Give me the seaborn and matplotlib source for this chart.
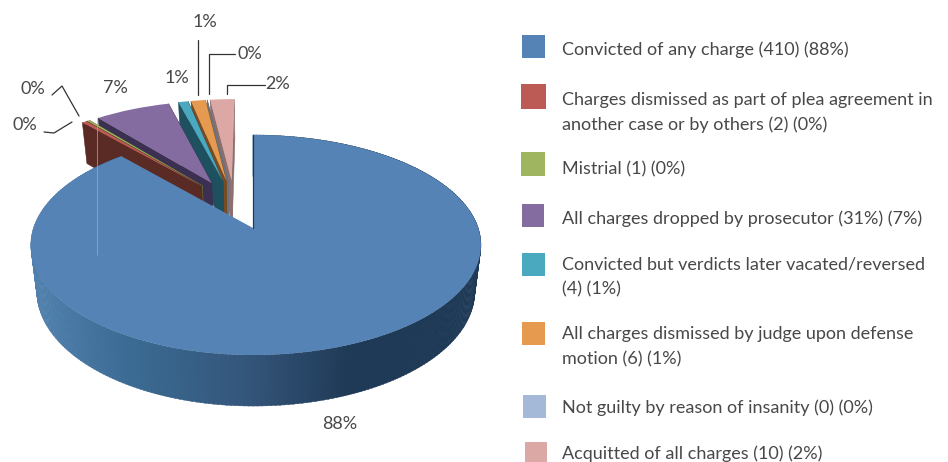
#!/usr/bin/env python3
"""Outcome of federal charges, drawn as a tilted exploded pie with a side legend."""

import numpy as np
import matplotlib
matplotlib.use("Agg")
import matplotlib.pyplot as plt
from matplotlib.colors import to_rgb
from matplotlib.patches import Rectangle
from matplotlib.transforms import Transform
import seaborn as sns

# --------------------------------------------------------------------
# DATA
# --------------------------------------------------------------------

COUNTS = [410, 2, 1, 31, 4, 6, 0, 10]

LEGEND_LABELS = [
    "Convicted of any charge (410) (88%)",
    "Charges dismissed as part of plea agreement in\nanother case or by others (2) (0%)",
    "Mistrial (1) (0%)",
    "All charges dropped by prosecutor (31%) (7%)",
    "Convicted but verdicts later vacated/reversed\n(4) (1%)",
    "All charges dismissed by judge upon defense\nmotion (6) (1%)",
    "Not guilty by reason of insanity (0) (0%)",
    "Acquitted of all charges (10) (2%)",
]

# --------------------------------------------------------------------
# STYLE AND LAYOUT (pixels of the output image)
# --------------------------------------------------------------------

TOP_COLORS = ["#5583b5", "#bc5b55", "#a0b55f", "#856ca0",
              "#4aa8bf", "#e59a4f", "#a4b8d8", "#dba8a5"]
WALL_COLORS = ["#1f3a56", "#5a2a25", "#5f6e35", "#3c3052",
               "#1f505f", "#7a4a20", "#6b7280", "#8c6f6d"]
TEXT_COLOR = "#484848"
LINE_COLOR = "#333333"

APEX_X, APEX_Y = 253, 228
EXPLODE = 0.245
TILT = 0.1545
X_SCALE_LEFT, X_SCALE_RIGHT = 219.5, 225.2
Y_SCALE = 107.4

# side colour of the big slice, going left to right
RIM_X = [36, 130, 250, 350, 480]
RIM_COLORS = ["#5080ad", "#3b6b93", "#34557a", "#1f3a56", "#1f3a56"]

SWATCHES = [(522, 35, 23, 23), (521, 84, 25, 25), (521, 152, 24, 24), (522, 204, 22, 23),
            (522, 253, 23, 23), (522, 322, 23, 23), (523, 395, 23, 23), (525, 442, 22, 22)]
LEGEND_TEXT_X = 562
LEGEND_TEXT_Y = [49.5, 112.5, 169.5, 218.5, 277, 347, 407.5, 453.5]

# percent label positions, same order as COUNTS
PCT_POS = [(340, 424), (25, 125), (33, 89), (115, 88), (177, 78), (205, 22), (250, 54), (278, 84)]
LEADERS = [
    [(44, 132), (54, 133), (72, 122)],
    [(52, 95), (62, 86), (79, 116)],
    [(198, 40), (198, 95)],
    [(235, 54), (209, 54), (209, 94)],
    [(265, 85), (227, 85), (227, 94)],
]


# --------------------------------------------------------------------
# PROJECTION
# --------------------------------------------------------------------

def project(u, v):
    """Pie coordinates to image pixels, with the far side foreshortened."""
    u, v = np.asarray(u, float), np.asarray(v, float)
    scale = np.where(u < 0, X_SCALE_LEFT, X_SCALE_RIGHT)
    w = 1 + TILT * v
    return APEX_X + scale * u / w, APEX_Y - Y_SCALE * v / w


def drop(x, y):
    """Top face pixel to the matching pixel on the bottom face."""
    return APEX_X + (x - APEX_X) * 0.973, y + 41 + (y - 122) * 0.043


class TiltedPie(Transform):
    input_dims = 2
    output_dims = 2
    is_separable = False
    has_inverse = False

    def transform_non_affine(self, values):
        values = np.asarray(values, float)
        return np.column_stack(project(values[:, 0], values[:, 1]))


def rim_color(x):
    stops = np.array([to_rgb(c) for c in RIM_COLORS])
    return tuple(np.interp(x, RIM_X, stops[:, i]) for i in range(3))


# --------------------------------------------------------------------
# DRAWING
# --------------------------------------------------------------------

def radial_edge(wedge, angle):
    rad = np.radians(angle)
    cx, cy = wedge.center
    return project([cx, cx + wedge.r * np.cos(rad)], [cy, cy + wedge.r * np.sin(rad)])


def draw_radial_wall(ax, wedge, angle, color, z):
    xs, ys = radial_edge(wedge, angle)
    bx, by = drop(xs, ys)
    ax.fill([xs[0], xs[1], bx[1], bx[0]], [ys[0], ys[1], by[1], by[0]],
            facecolor=color, edgecolor=color, linewidth=0.4, zorder=z)


def draw_big_rim(ax, wedge, z):
    angles = np.arange(wedge.theta1, wedge.theta2, 1.0)
    cx, cy = wedge.center
    for a in angles:
        rad = np.radians([a, min(a + 1.2, wedge.theta2)])
        xs, ys = project(cx + np.cos(rad), cy + np.sin(rad))
        bx, by = drop(xs, ys)
        color = rim_color(xs.mean())
        ax.fill([xs[0], xs[1], bx[1], bx[0]], [ys[0], ys[1], by[1], by[0]],
                facecolor=color, edgecolor=color, linewidth=0.3, zorder=z)


def main():
    sns.set_theme(style="white")
    plt.rcParams["font.family"] = ["Lato", "DejaVu Sans"]

    fig = plt.figure(figsize=(9.48, 4.62), dpi=100, facecolor="white")
    ax = fig.add_axes([0, 0, 1, 1])

    total = sum(COUNTS)
    blue_mid = np.pi * COUNTS[0] / total
    center = (-EXPLODE * np.sin(blue_mid), -EXPLODE * np.cos(blue_mid))
    palette = sns.color_palette(TOP_COLORS)

    wedges, _ = ax.pie(
        COUNTS,
        explode=[EXPLODE] * len(COUNTS),
        colors=palette,
        startangle=90,
        counterclock=False,
        center=center,
        radius=1,
        wedgeprops={"linewidth": 0},
    )
    ax.set_aspect("auto")
    ax.set(xlim=(0, 948), ylim=(462, 0))
    ax.axis("off")

    projection = TiltedPie() + ax.transData

    # painted back to front: last slice first, big slice on top
    for order, i in enumerate(range(len(COUNTS) - 1, 0, -1)):
        w = wedges[i]
        z = 2 + 2 * order
        draw_radial_wall(ax, w, w.theta2, WALL_COLORS[i], z)
        draw_radial_wall(ax, w, w.theta1, WALL_COLORS[i], z)
        w.set_transform(projection)
        w.set_zorder(z + 1)

    big = wedges[0]
    draw_big_rim(ax, big, 40)
    big.set_transform(projection)
    big.set_zorder(41)
    xs, ys = radial_edge(big, big.theta2)
    ax.plot(xs, ys, color=WALL_COLORS[0], linewidth=0.9, zorder=42)

    # thin pale seam running down the left of the big slice
    ax.vlines(97, 118, 255, color="#8fb0d0", linewidth=0.5, zorder=43)

    for count, (x, y) in zip(COUNTS, PCT_POS):
        ax.text(x, y, f"{count / total:.0%}", ha="center", va="center",
                fontsize=13, color=TEXT_COLOR, zorder=50)

    for leader in LEADERS:
        xs, ys = zip(*leader)
        ax.plot(xs, ys, color=LINE_COLOR, linewidth=0.9, zorder=50)

    # legend
    for label, color, box, y in zip(LEGEND_LABELS, palette, SWATCHES, LEGEND_TEXT_Y):
        x0, y0, w, h = box
        ax.add_patch(Rectangle((x0, y0), w, h, facecolor=color, edgecolor="none", zorder=50))
        ax.text(LEGEND_TEXT_X, y, label, ha="left", va="center", fontsize=12.95,
                color=TEXT_COLOR, linespacing=1.68, zorder=50)

    fig.savefig("out.png", dpi=100, facecolor="white")
    plt.close(fig)


if __name__ == "__main__":
    main()
